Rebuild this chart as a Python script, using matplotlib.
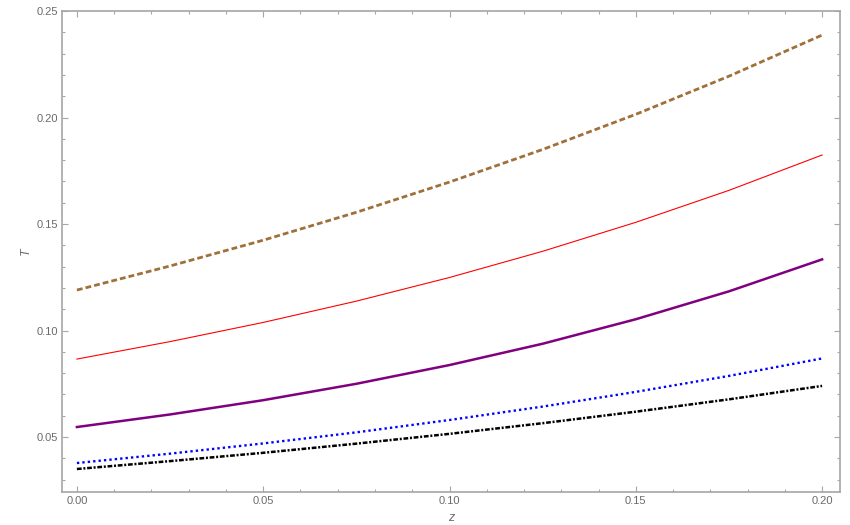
# T versus z for five parameter choices
import numpy as np
import matplotlib
matplotlib.use('Agg')
import matplotlib.pyplot as plt

# Data
z = [0.0, 0.025, 0.05, 0.075, 0.1, 0.125, 0.15, 0.175, 0.2]
T_brown = [0.1190, 0.1303, 0.1424, 0.1555, 0.1697, 0.1850, 0.2015, 0.2194, 0.2387]
T_red = [0.0866, 0.0948, 0.1038, 0.1138, 0.1249, 0.1372, 0.1508, 0.1658, 0.1824]
T_purple = [0.0547, 0.0606, 0.0673, 0.0750, 0.0838, 0.0938, 0.1053, 0.1184, 0.1334]
T_blue = [0.0378, 0.0422, 0.0470, 0.0522, 0.0580, 0.0643, 0.0712, 0.0787, 0.0869]
T_black = [0.0350, 0.0387, 0.0426, 0.0469, 0.0515, 0.0565, 0.0619, 0.0677, 0.0740]

xticks = [0.0, 0.05, 0.10, 0.15, 0.20]
yticks = [0.05, 0.10, 0.15, 0.20, 0.25]

FRAME = '#a6a6a6'
TEXT = '#6b6b6b'

plt.rcParams['font.family'] = ['Liberation Sans', 'DejaVu Sans']

fig = plt.figure(figsize=(8.5, 5.25), dpi=100)
ax = fig.add_axes([62 / 850, 33 / 525, 778 / 850, 481 / 525])

ax.plot(z, T_brown, color='#a0703a', lw=2.0, dashes=(2.1, 1.1), solid_capstyle='butt')
ax.plot(z, T_red, color='#ff0000', lw=0.8)
ax.plot(z, T_purple, color='#800080', lw=1.8)
ax.plot(z, T_blue, color='#0000ff', lw=1.7, dashes=(1.0, 1.3))
ax.plot(z, T_black, color='black', lw=1.8, dashes=(1.9, 0.7, 0.8, 0.7))

ax.set_xlim(-0.004, 0.2048)
ax.set_ylim(0.0242, 0.25)
ax.set_xticks(xticks)
ax.set_yticks(yticks)
ax.set_xticklabels(['%.2f' % v for v in xticks])
ax.set_yticklabels(['%.2f' % v for v in yticks])
ax.set_xticks(np.arange(0, 0.2001, 0.01), minor=True)
ax.set_yticks(np.arange(0.03, 0.2501, 0.01), minor=True)

ax.tick_params(which='both', direction='in', top=True, right=True, color=FRAME, width=0.8)
ax.tick_params(which='major', length=4, labelsize=8, labelcolor=TEXT, pad=3)
ax.tick_params(which='minor', length=2)
for sp in ax.spines.values():
    sp.set_color(FRAME)
    sp.set_linewidth(1.2)

ax.set_xlabel('z', fontsize=9, color=TEXT, style='italic')
ax.set_ylabel('T', fontsize=9, color=TEXT, style='italic')
ax.xaxis.set_label_coords(0.5, -0.042)
ax.yaxis.set_label_coords(-0.039, 0.5)

fig.savefig('out.png', dpi=100)
